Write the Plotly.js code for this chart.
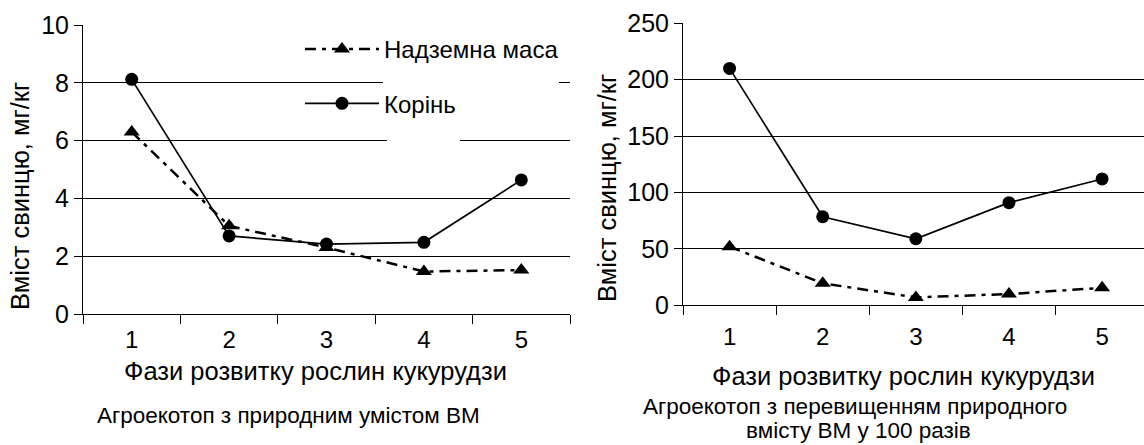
<!DOCTYPE html>
<html><head><meta charset="utf-8">
<script src="https://cdn.plot.ly/plotly-3.0.1.min.js"></script>
<style>html,body{margin:0;padding:0;background:#fff}</style>
</head><body><div id="chart" style="width:1144px;height:445px"></div>
<script>
// ---- data ----
const phases = ['1', '2', '3', '4', '5'];
const natAbove = [6.3, 3.05, 2.3, 1.47, 1.52];
const natRoot = [8.12, 2.7, 2.42, 2.48, 4.64];
const excAbove = [52, 19.5, 7, 10, 15.5];
const excRoot = [210, 78.5, 59, 91, 112];
const seriesNames = ['Надземна маса', 'Корінь'];
const yTitle = 'Вміст свинцю, мг/кг';
const xTitle = 'Фази розвитку рослин кукурудзи';
const captionLeft = 'Агроекотоп з природним умістом ВМ';
const captionRight1 = 'Агроекотоп з перевищенням природного';
const captionRight2 = 'вмісту ВМ у 100 разів';

// ---- helpers ----
const W = 1144, H = 445;
const px = x => x / W, py = y => 1 - y / H;
const FONT = '"Liberation Sans", Arial, sans-serif';
const aboveStyle = {line: {color: '#000', width: 2.5, dash: '11px,6px,4px,6px'},
  marker: {symbol: 'triangle-up', size: 14, color: '#000'}};
const rootStyle = {line: {color: '#000', width: 1.7},
  marker: {symbol: 'circle', size: 13, color: '#000'}};

const traces = [
  Object.assign({x: phases, y: natAbove, name: seriesNames[0], mode: 'lines+markers',
    xaxis: 'x', yaxis: 'y', legendgroup: 'a'}, aboveStyle),
  Object.assign({x: phases, y: natRoot, name: seriesNames[1], mode: 'lines+markers',
    xaxis: 'x', yaxis: 'y', legendgroup: 'b'}, rootStyle),
  Object.assign({x: phases, y: excAbove, name: seriesNames[0], mode: 'lines+markers',
    xaxis: 'x2', yaxis: 'y2', showlegend: false}, aboveStyle),
  Object.assign({x: phases, y: excRoot, name: seriesNames[1], mode: 'lines+markers',
    xaxis: 'x2', yaxis: 'y2', showlegend: false}, rootStyle)
];

const xCommon = {type: 'category', showline: true, linecolor: '#000', linewidth: 1,
  ticks: 'outside', tickson: 'boundaries', ticklen: 9, tickcolor: '#000', tickwidth: 1,
  showgrid: false, zeroline: false, tickfont: {size: 24, color: '#000'}, fixedrange: true};
const yCommon = {showline: true, linecolor: '#000', linewidth: 1, ticks: 'outside',
  ticklen: 8, tickcolor: '#000', gridcolor: '#000', gridwidth: 1, zeroline: false,
  tickfont: {size: 25, color: '#000'}, fixedrange: true};

const titleFont = {size: 25.5, color: '#000'};
const yTitleFont = {size: 25.5, color: '#000'};
const capFont = {size: 22.5, color: '#000'};
const note = (text, x, y, font, extra) => Object.assign({text: text, xref: 'paper', yref: 'paper',
  x: px(x), y: py(y), xanchor: 'center', yanchor: 'middle', showarrow: false, font: font}, extra || {});

const layout = {
  width: W, height: H,
  margin: {l: 0, r: 0, t: 0, b: 0},
  paper_bgcolor: '#fff', plot_bgcolor: '#fff',
  font: {family: FONT, color: '#000'},
  showlegend: true,
  legend: {x: px(300), y: py(27), xanchor: 'left', yanchor: 'top',
    bgcolor: 'rgba(0,0,0,0)', borderwidth: 0, font: {size: 24, color: '#000'},
    itemwidth: 74, traceorder: 'grouped', tracegroupgap: 20},
  xaxis: Object.assign({}, xCommon, {domain: [px(83), px(570)], range: [-0.5, 4.5], anchor: 'y',
    ticklabelstandoff: 4}),
  yaxis: Object.assign({}, yCommon, {domain: [py(314), py(25)], range: [0, 10], dtick: 2, anchor: 'x'}),
  xaxis2: Object.assign({}, xCommon, {domain: [px(683), 1], range: [-0.5, 4.45], anchor: 'y2',
    ticklabelstandoff: 10}),
  yaxis2: Object.assign({}, yCommon, {domain: [py(305.3), py(23.3)], range: [0, 250], dtick: 50, anchor: 'x2'}),
  shapes: [
    {type: 'rect', xref: 'paper', yref: 'paper', x0: px(383), x1: px(559), y0: py(88), y1: py(32),
      fillcolor: '#fff', line: {width: 0}, layer: 'above'},
    {type: 'rect', xref: 'paper', yref: 'paper', x0: px(387), x1: px(460), y0: py(146), y1: py(88),
      fillcolor: '#fff', line: {width: 0}, layer: 'above'}
  ],
  annotations: [
    note(yTitle, 20, 196, yTitleFont, {textangle: -90}),
    note(yTitle, 607, 188, yTitleFont, {textangle: -90}),
    note(xTitle, 315, 371, titleFont),
    note(xTitle, 903, 376, titleFont),
    note(captionLeft, 288, 415, capFont),
    note(captionRight1, 855, 406, capFont),
    note(captionRight2, 858, 430, capFont)
  ]
};

Plotly.newPlot('chart', traces, layout, {displayModeBar: false, staticPlot: true});
</script>
</body></html>
